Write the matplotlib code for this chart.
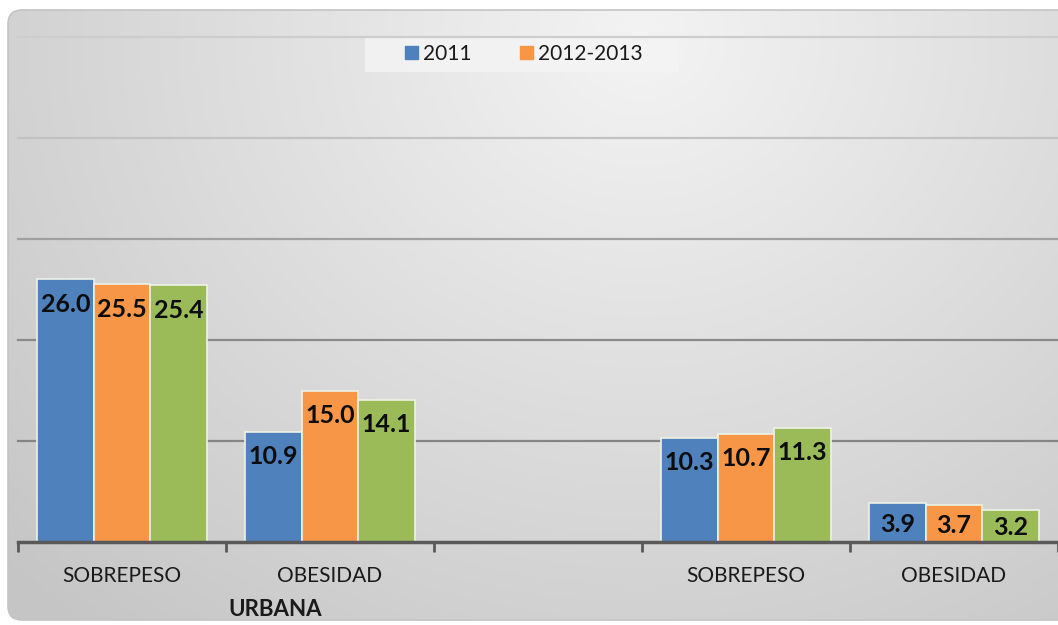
import numpy as np
import matplotlib
matplotlib.use('Agg')
import matplotlib.pyplot as plt
from matplotlib.patches import FancyBboxPatch, Patch, Rectangle

plt.rcParams['font.family'] = ['Lato', 'DejaVu Sans']

# datos
categorias = ['SOBREPESO', 'OBESIDAD', '', 'SOBREPESO', 'OBESIDAD']
serie_2011 = [26.0, 10.9, np.nan, 10.3, 3.9]
serie_2012_2013 = [25.5, 15.0, np.nan, 10.7, 3.7]
serie_3 = [25.4, 14.1, np.nan, 11.3, 3.2]
nombres_series = ['2011', '2012-2013', '']
grupo = 'URBANA'

colores = ['#4F81BD', '#F79646', '#9BBB59']

W, H = 1058, 625
fig = plt.figure(figsize=(W / 100, H / 100), dpi=100)
fig.patch.set_facecolor('white')

# fondo con degradado y esquinas redondeadas
bg = fig.add_axes([0, 0, 1, 1])
bg.set_xlim(0, W)
bg.set_ylim(H, 0)
bg.axis('off')
yy, xx = np.mgrid[0:H, 0:W]
d = np.sqrt(((xx - 640) / 720.0) ** 2 + ((yy - 40) / 640.0) ** 2)
g = 0.955 - 0.15 * np.clip(d, 0, 1.2)
img = np.dstack([g, g, g])
marco = FancyBboxPatch((8, 10), 1120, 610, boxstyle='round,pad=0,rounding_size=14',
                       fc='none', ec='#c4c4c4', lw=1.2)
bg.add_patch(marco)
im = bg.imshow(img, extent=(0, W, H, 0), aspect='auto', zorder=0)
im.set_clip_path(marco)
# caja clara detras de la leyenda
bg.add_patch(Rectangle((365, 37), 314, 35, fc='#f4f4f4', ec='none', alpha=0.85, zorder=1))

ax = fig.add_axes([18 / W, 83 / H, 1040 / W, 505 / H])
ax.patch.set_alpha(0)
ax.set_xlim(-0.5, 4.5)
ax.set_ylim(0, 50)

# lineas de cuadricula
for v, c in zip([10, 20, 30, 40, 50], ['#858585', '#8a8a8a', '#a0a0a0', '#c2c2c2', '#cdcdcd']):
    ax.axhline(v, color=c, lw=1.6, zorder=0, clip_on=False)

for s in ['top', 'left', 'right']:
    ax.spines[s].set_visible(False)
ax.spines['bottom'].set_color('#595959')
ax.spines['bottom'].set_linewidth(2.5)
ax.set_yticks([])

ax.set_xticks(np.arange(-0.5, 5, 1))
ax.tick_params(axis='x', which='major', direction='out', length=7, width=2,
               color='#595959', labelbottom=False)
ax.set_xticks(range(len(categorias)), minor=True)
ax.set_xticklabels(categorias, minor=True)
ax.tick_params(axis='x', which='minor', length=0, pad=17, labelsize=15, labelcolor='#1a1a1a')

x = np.arange(len(categorias))
ancho = 0.272
series = [serie_2011, serie_2012_2013, serie_3]
px_por_unidad = 505 / 50
for i, (vals, col) in enumerate(zip(series, colores)):
    pos = x + (i - 1) * ancho
    ax.bar(pos, vals, ancho, color=col, edgecolor='#eef2e6', lw=1.2, zorder=2)
    for xp, v in zip(pos, vals):
        if np.isnan(v):
            continue
        off = min(25, v * px_por_unidad / 2 + 2)
        ax.annotate(f'{v:.1f}', (xp, v), xytext=(0, -off * 0.72), textcoords='offset points',
                    ha='center', va='center', fontsize=18, fontweight='bold',
                    color='#0d0d0d', zorder=3)

# leyenda (solo dos entradas visibles)
handles = [Patch(color=colores[0]), Patch(color=colores[1])]
leg = fig.legend(handles, nombres_series[:2], loc='center', bbox_to_anchor=(524 / W, 1 - 54 / H),
                 ncol=2, frameon=False, fontsize=15, handlelength=0.62, handleheight=0.62,
                 handletextpad=0.25, columnspacing=2.3, borderpad=0.2)
for t in leg.get_texts():
    t.set_color('#1a1a1a')

fig.text(228 / W, 1 - 610 / H, grupo, fontsize=16, fontweight='bold',
         ha='left', va='center', color='#1a1a1a')

fig.savefig('out.png', dpi=100)
